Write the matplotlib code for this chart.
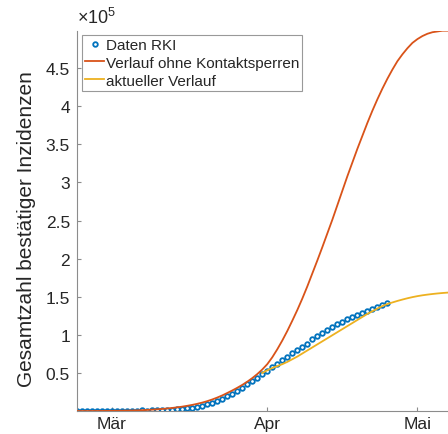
import numpy as np
import matplotlib
matplotlib.use("Agg")
import matplotlib.pyplot as plt

plt.rcParams['font.family'] = ['Liberation Sans', 'DejaVu Sans']
plt.rcParams['mathtext.fontset'] = 'custom'
plt.rcParams['mathtext.rm'] = 'Liberation Sans'
plt.rcParams['mathtext.it'] = 'Liberation Sans:italic'

# ---- data (days since 2020-02-23, values in thousands of cases) ----
start_date = np.datetime64('2020-02-23')

rki_cases_k = [0.02, 0.02, 0.02, 0.02, 0.03, 0.05, 0.07, 0.12, 0.15, 0.19,
               0.26, 0.4, 0.64, 0.8, 0.7, 0.9, 1.1, 1.4, 1.7, 2.0,
               2.4, 2.9, 3.6, 4.5, 5.6, 7.0, 8.7, 10.8, 13.2, 16.0,
               19.2, 22.6, 26.4, 30.5, 35.0, 39.5, 44.0, 48.5, 53.0, 57.5,
               62.0, 67.0, 71.5, 76.0, 80.5, 84.5, 88.5, 94.0, 98.0, 102.0,
               106.0, 110.0, 114.0, 117.5, 120.5, 123.5, 126.0, 128.5, 131.0, 133.5,
               136.5, 139.0, 141.5]

no_lockdown_k = [0.05, 0.06, 0.08, 0.1, 0.13, 0.17, 0.22, 0.28, 0.36, 0.46,
                 0.6, 0.75, 0.95, 1.2, 1.5, 1.9, 2.3, 2.8, 3.4, 4.1,
                 4.9, 5.8, 6.9, 8.1, 9.5, 11.1, 13.0, 15.2, 17.7, 20.5,
                 23.7, 27.0, 30.5, 34.3, 38.5, 43.2, 48.5, 54.5, 61.5, 70.5,
                 81.0, 92.5, 105.0, 118.5, 132.5, 147.5, 163.5, 180.5, 197.5, 215.0,
                 233.0, 251.0, 270.0, 289.0, 308.0, 326.0, 344.0, 361.0, 378.0, 394.0,
                 409.0, 423.0, 436.0, 448.0, 459.0, 468.0, 476.0, 483.0, 488.0, 492.0,
                 495.0, 497.0, 498.0, 499.0, 499.0, 499.0]

current_start_day = 37
current_k = [50.0, 53.5, 56.5, 59.0, 61.5, 64.5, 68.0, 71.5, 75.5, 79.5,
             83.5, 87.5, 91.5, 95.5, 99.5, 103.5, 107.5, 111.5, 115.5, 119.5,
             123.5, 127.5, 131.0, 134.5, 137.8, 140.5, 142.5, 144.5, 146.3, 148.0,
             149.5, 150.8, 151.9, 152.8, 153.6, 154.3, 154.9, 155.4, 155.7]

legend_labels = ['Daten RKI', 'Verlauf ohne Kontaktsperren', 'aktueller Verlauf']
month_ticks = ['2020-03-01', '2020-04-01', '2020-05-01']
month_labels = ['Mär', 'Apr', 'Mai']
ytick_vals = [0.5, 1, 1.5, 2, 2.5, 3, 3.5, 4, 4.5]
ylabel = 'Gesamtzahl bestätiger Inzidenzen'

# ---- build ----
def days_to_dates(n, offset=0):
    return start_date + np.arange(offset, offset + n).astype('timedelta64[D]')

d_rki = days_to_dates(len(rki_cases_k))
d_red = days_to_dates(len(no_lockdown_k))
d_yel = days_to_dates(len(current_k), current_start_day)

blue = '#0072BD'
red = '#D95319'
yellow = '#EDB120'
axcol = '#8c8c8c'
txtcol = '#262626'

fig = plt.figure(figsize=(4.48, 4.35), dpi=100)
ax = fig.add_axes([77/448, 1 - 411.7/435, 1 - 77/448 + 0.01, (411.7 - 31.7)/435])

ax.plot(d_rki, np.array(rki_cases_k) * 1e3, 'o', mfc='none', mec=blue,
        ms=3.3, mew=1.3, label=legend_labels[0], zorder=2)
ax.plot(d_red, np.array(no_lockdown_k) * 1e3, '-', color=red, lw=1.3,
        label=legend_labels[1], zorder=3)
ax.plot(d_yel, np.array(current_k) * 1e3, '-', color=yellow, lw=1.3,
        label=legend_labels[2], zorder=3)

ax.set_xlim(start_date, start_date + np.timedelta64(75, 'D'))
ax.set_ylim(500, 4.99e5)

ax.set_xticks([np.datetime64(m) for m in month_ticks])
ax.set_xticklabels(month_labels)
ax.set_yticks([v * 1e5 for v in ytick_vals])
ax.set_yticklabels([f'{v:g}' for v in ytick_vals])

for s in ['top', 'right']:
    ax.spines[s].set_visible(False)
for s in ['left', 'bottom']:
    ax.spines[s].set_color(axcol)
    ax.spines[s].set_linewidth(0.8)
ax.tick_params(direction='in', length=3, width=0.8, color=axcol,
               labelsize=12.5, labelcolor=txtcol, pad=5)
ax.tick_params(axis='x', pad=4)

ax.set_ylabel(ylabel, fontsize=15, color=txtcol)
ax.yaxis.set_label_coords(-0.11, 0.48)

ax.text(0.0, 1.01, r'$\times10^{5}$', transform=ax.transAxes,
        ha='left', va='bottom', fontsize=13, color=txtcol)

leg = ax.legend(loc='upper left', bbox_to_anchor=(0.0135, 0.989),
                borderaxespad=0, fontsize=11, fancybox=False, framealpha=1,
                edgecolor='#999999', handlelength=1.25, handletextpad=0.1,
                borderpad=0.2, labelspacing=0.25, numpoints=1)
leg.get_frame().set_linewidth(0.8)
for t in leg.get_texts():
    t.set_color(txtcol)

fig.savefig('out.png', dpi=100)
